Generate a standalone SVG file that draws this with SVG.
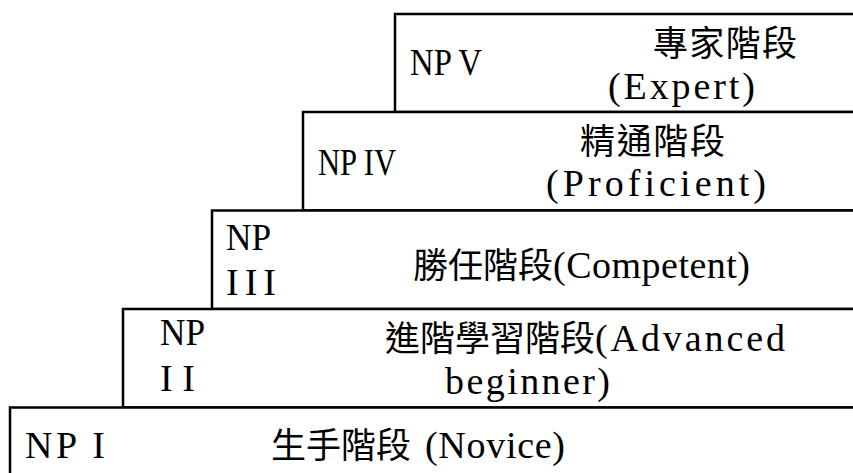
<svg xmlns="http://www.w3.org/2000/svg" width="853" height="473" viewBox="0 0 853 473">
<style>
.box{fill:#fff;stroke:#000;stroke-width:2.5}
.t{font-family:"Liberation Serif","Noto Sans CJK TC",serif;font-size:35px;fill:#000}
.l{font-size:38px}
</style>
<rect x="0" y="0" width="853" height="473" fill="#fff"/>
<g id="np5">
<rect class="box" x="395" y="14" width="500" height="98"/>
<text class="t l" x="410" y="75" textLength="72" lengthAdjust="spacingAndGlyphs">NP V</text>
<text class="t" x="653" y="56" textLength="144" lengthAdjust="spacing">專家階段</text>
<text class="t l" x="608" y="99" textLength="147" lengthAdjust="spacing">(Expert)</text>
</g>
<g id="np4">
<rect class="box" x="303" y="112" width="600" height="98.5"/>
<text class="t l" x="318" y="175" textLength="78" lengthAdjust="spacingAndGlyphs">NP IV</text>
<text class="t" x="580" y="154" textLength="145" lengthAdjust="spacing">精通階段</text>
<text class="t l" x="546" y="196" textLength="220" lengthAdjust="spacing">(Proficient)</text>
</g>
<g id="np3">
<rect class="box" x="212" y="210.5" width="700" height="98.5"/>
<text class="t l" x="226" y="250" textLength="45" lengthAdjust="spacingAndGlyphs">NP</text>
<text class="t l" x="226" y="295" textLength="50" lengthAdjust="spacing">III</text>
<text class="t" x="413" y="278">勝任階段<tspan class="l" x="553" textLength="197" lengthAdjust="spacing">(Competent)</tspan></text>
</g>
<g id="np2">
<rect class="box" x="123" y="309" width="800" height="98.5"/>
<text class="t l" x="160" y="345" textLength="45" lengthAdjust="spacingAndGlyphs">NP</text>
<text class="t l" x="160" y="391" textLength="35" lengthAdjust="spacing">II</text>
<text class="t" x="385" y="351">進階學習階段<tspan class="l" x="595" textLength="190" lengthAdjust="spacing">(Advanced</tspan></text>
<text class="t l" x="445" y="394" textLength="165" lengthAdjust="spacing">beginner)</text>
</g>
<g id="np1">
<rect class="box" x="10" y="407.5" width="900" height="100"/>
<text class="t l" x="25" y="458" textLength="80" lengthAdjust="spacing">NP I</text>
<text class="t" x="271" y="458">生手階段 <tspan class="l" x="425" textLength="140" lengthAdjust="spacing">(Novice)</tspan></text>
</g>
</svg>
